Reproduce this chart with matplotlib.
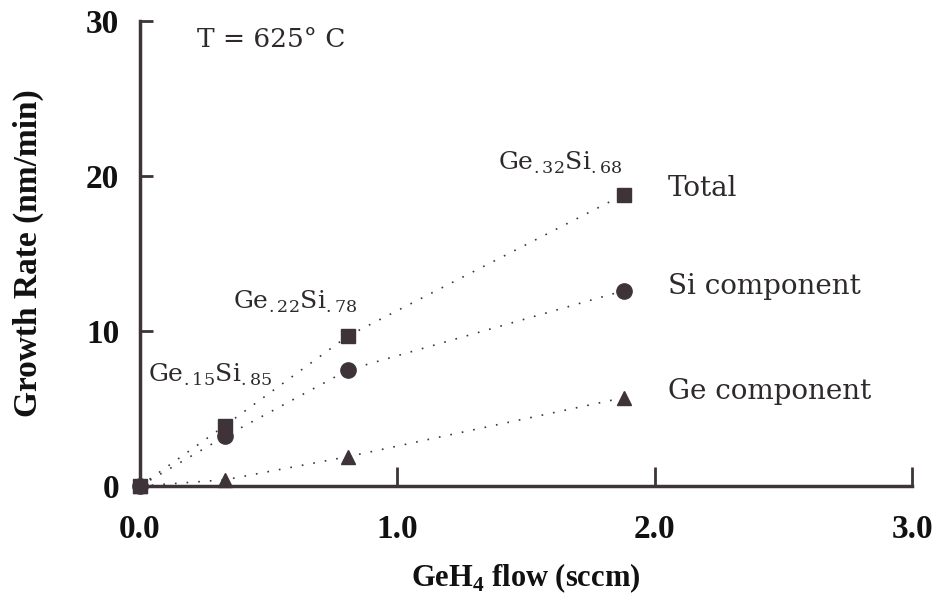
import matplotlib.pyplot as plt

# data
flow = [0.0, 0.33, 0.81, 1.88]
total = [0.0, 3.9, 9.7, 18.8]
si_comp = [0.0, 3.2, 7.5, 12.6]
ge_comp = [0.0, 0.4, 1.9, 5.7]

xticks = [0.0, 1.0, 2.0, 3.0]
xtick_labels = ["0.0", "1.0", "2.0", "3.0"]
yticks = [0, 10, 20, 30]

ink = "#3d3338"
txt = "#2e2a2c"
plt.rcParams["font.family"] = "Liberation Serif"
plt.rcParams["mathtext.fontset"] = "custom"
plt.rcParams["mathtext.rm"] = "DejaVu Serif"
plt.rcParams["mathtext.bf"] = "Liberation Serif:bold"

fig = plt.figure(figsize=(9.38, 6.04), dpi=100)
ax = fig.add_axes([140/938, 1-486/604, 772/938, 465/604])

for y, m, ms in [(total, "s", 10), (si_comp, "o", 11), (ge_comp, "^", 10)]:
    ax.plot(flow, y, linestyle=(0, (1, 6)), color=ink, lw=1.2, marker=m,
            markersize=ms, markerfacecolor=ink, markeredgecolor=ink, clip_on=False, zorder=3)

ax.set_xlim(0, 3.0)
ax.set_ylim(0, 30)
ax.spines["top"].set_visible(False)
ax.spines["right"].set_visible(False)
for s in ["left", "bottom"]:
    ax.spines[s].set_linewidth(2.5)
    ax.spines[s].set_color(ink)

ax.set_xticks(xticks)
ax.set_xticklabels(xtick_labels)
ax.set_yticks(yticks)
ax.tick_params(axis="x", direction="in", length=14, width=2, color=ink, pad=20,
               labelsize=24, labelcolor="#111")
ax.tick_params(axis="y", direction="in", length=9, width=2, color=ink, pad=15,
               labelsize=24, labelcolor="#111")
for lab in ax.get_xticklabels() + ax.get_yticklabels():
    lab.set_fontweight("bold")

ax.set_xlabel(r"GeH$_\mathbf{4}$ flow (sccm)", fontsize=22, labelpad=12, fontweight="bold",
              color="#111")
ax.set_ylabel("Growth Rate (nm/min)", fontsize=24, labelpad=30, fontweight="bold",
              color="#111")

kw = dict(family="DejaVu Serif", color=txt)
ax.text(0.22, 28.3, "T = 625° C", fontsize=19, **kw)
ax.text(0.03, 6.7, r"Ge$_{.15}$Si$_{.85}$", fontsize=18, **kw)
ax.text(0.36, 11.4, r"Ge$_{.22}$Si$_{.78}$", fontsize=18, **kw)
ax.text(1.39, 20.4, r"Ge$_{.32}$Si$_{.68}$", fontsize=18, **kw)
ax.text(2.05, 19.2, "Total", fontsize=20, va="center", **kw)
ax.text(2.05, 12.9, "Si component", fontsize=20, va="center", **kw)
ax.text(2.05, 6.1, "Ge component", fontsize=20, va="center", **kw)

fig.savefig("out.png", dpi=100)
